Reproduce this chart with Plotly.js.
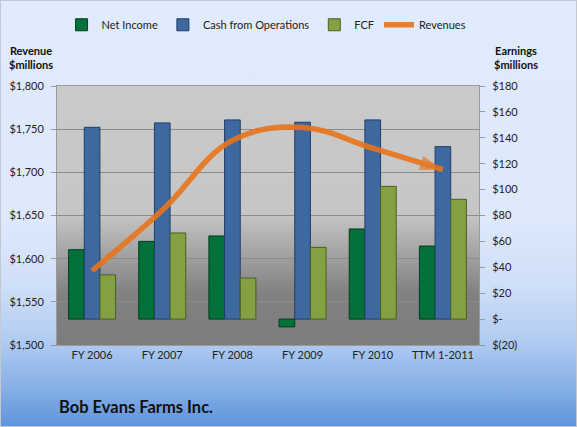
<!DOCTYPE html>
<html><head><meta charset="utf-8">
<script src="https://cdn.plot.ly/plotly-3.0.1.min.js"></script>
<style>
html,body{margin:0;padding:0;}
#wrap{position:relative;width:577px;height:427px;
background:linear-gradient(to bottom,#e0ebfd 0%,#dde8fb 52%,#cfdff8 67%,#b0cbf1 80%,#8ab2e7 90%,#5e93dc 100%);
box-shadow:inset 0 0 0 1px #c4c8d0;}
#chart{position:absolute;left:0;top:0;width:577px;height:427px;}
</style></head>
<body><div id="wrap"><div id="chart"></div></div>
<script>
var categories = ['FY 2006','FY 2007','FY 2008','FY 2009','FY 2010','TTM 1-2011'];
var netIncome = [53.6, 60.0, 64.2, -6.0, 69.6, 56.4];
var cashFromOps = [148.1, 151.5, 153.8, 152.0, 153.8, 133.2];
var fcf = [34.2, 66.5, 31.7, 55.4, 102.5, 92.5];
var revenues = [1586, 1656, 1737, 1752, 1728, 1703];

var revTickVals = [1500,1550,1600,1650,1700,1750,1800];
var revTickText = ['$1,500','$1,550','$1,600','$1,650','$1,700','$1,750','$1,800'];
var earnTickVals = [-20,0,20,40,60,80,100,120,140,160,180];
var earnTickText = ['$(20)','$-','$20','$40','$60','$80','$100','$120','$140','$160','$180'];

var F = 'Lato, "Open Sans", sans-serif';

var bgSvg = '<svg xmlns="http://www.w3.org/2000/svg" width="100" height="100" preserveAspectRatio="none">' +
 '<defs><linearGradient id="g" x1="0" y1="0" x2="0" y2="1">' +
 '<stop offset="0" stop-color="#cacaca"/><stop offset="0.49" stop-color="#c6c6c6"/>' +
 '<stop offset="0.80" stop-color="#818181"/><stop offset="1" stop-color="#7d7d7d"/>' +
 '</linearGradient></defs><rect width="100" height="100" fill="url(#g)"/></svg>';
var bgUri = 'data:image/svg+xml;charset=utf-8,' + encodeURIComponent(bgSvg);

var traces = [
 {type:'bar', name:'Net Income', x:categories, y:netIncome, yaxis:'y',
  marker:{color:'#04703a', line:{color:'#023d1f', width:1}}},
 {type:'bar', name:'Cash from Operations', x:categories, y:cashFromOps, yaxis:'y',
  marker:{color:'#3d68a0', line:{color:'#223e66', width:1}}},
 {type:'bar', name:'FCF', x:categories, y:fcf, yaxis:'y',
  marker:{color:'#83a043', line:{color:'#4b5f22', width:1}}},
 {type:'scatter', mode:'lines+markers', name:'Revenues', x:categories, y:revenues, yaxis:'y2',
  line:{color:'#e8741c', width:5.5, shape:'spline', smoothing:1.1},
  opacity:0.9,
  marker:{symbol:['circle','circle','circle','circle','circle','arrow'], size:[0,0,0,0,0,24],
          angleref:'previous', color:'#e8741c', line:{width:0}}}
];

var layout = {
 width:577, height:427,
 margin:{l:57, r:98, t:86, b:82},
 paper_bgcolor:'rgba(0,0,0,0)',
 plot_bgcolor:'rgba(0,0,0,0)',
 font:{family:F, size:11, color:'#222'},
 barmode:'group', bargap:0.33, bargroupgap:0,
 showlegend:true,
 legend:{orientation:'h', xref:'container', yref:'container', x:0.462, y:0.942,
   xanchor:'center', yanchor:'middle', font:{family:F, size:11, color:'#222'},
   bgcolor:'rgba(0,0,0,0)', itemwidth:30, traceorder:'normal'},
 xaxis:{type:'category', showgrid:false, showline:true, linecolor:'#9a9a9a', mirror:true,
   ticks:'', tickfont:{family:F, size:11, color:'#222'}, zeroline:false},
 yaxis:{side:'right', range:[-20,180], tickvals:earnTickVals, ticktext:earnTickText,
   showgrid:false, zeroline:false, showline:true, linecolor:'#9a9a9a',
   ticks:'outside', ticklen:5, tickcolor:'#9a9a9a', ticklabelstandoff:5,
   tickfont:{family:F, size:11, color:'#222'}},
 yaxis2:{overlaying:'y', side:'left', range:[1500,1800], tickvals:revTickVals, ticktext:revTickText,
   showgrid:true, gridcolor:'#8c8c8c', gridwidth:1, zeroline:false, showline:true, linecolor:'#9a9a9a',
   ticks:'outside', ticklen:5, tickcolor:'#9a9a9a', ticklabelstandoff:5,
   tickfont:{family:F, size:11, color:'#222'}},
 images:[{source:bgUri, xref:'paper', yref:'paper', x:0, y:1, sizex:1, sizey:1,
   sizing:'stretch', xanchor:'left', yanchor:'top', layer:'below'}],
 annotations:[
  {text:'<b>Revenue<br>$millions</b>', xref:'paper', yref:'paper', x:-0.062, y:1.052,
   xanchor:'center', yanchor:'bottom', showarrow:false, align:'center', font:{family:F, size:11, color:'#111'}},
  {text:'<b>Earnings<br>$millions</b>', xref:'paper', yref:'paper', x:1.088, y:1.052,
   xanchor:'center', yanchor:'bottom', showarrow:false, align:'center', font:{family:F, size:11, color:'#111'}},
  {text:'<b>Bob Evans Farms Inc.</b>', xref:'paper', yref:'paper', x:0, y:-0.24,
   xanchor:'left', yanchor:'middle', showarrow:false, font:{family:F, size:16.5, color:'#111'}}
 ]
};

Plotly.newPlot('chart', traces, layout, {displayModeBar:false, staticPlot:true});
</script>
</body></html>
